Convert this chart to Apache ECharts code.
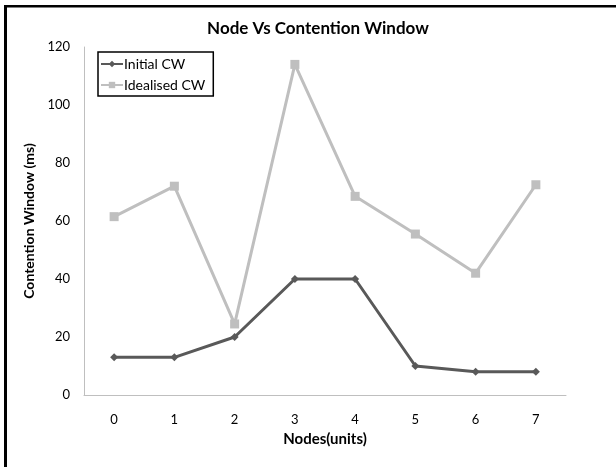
<!DOCTYPE html>
<html><head><meta charset="utf-8">
<script src="https://cdn.jsdelivr.net/npm/echarts@6/dist/echarts.min.js"></script>
<style>html,body{margin:0;padding:0;background:#fff}#c{width:616px;height:467px}</style>
</head><body><div id="c"></div>
<script>
const categories = ['0','1','2','3','4','5','6','7'];
const initialCW = [13, 13, 20, 40, 40, 10, 8, 8];
const idealisedCW = [61.5, 72, 24.5, 114, 68.5, 55.5, 42, 72.5];
const yTicks = [0, 20, 40, 60, 80, 100, 120];

const FONT = 'Lato, "Open Sans", sans-serif';
const chart = echarts.init(document.getElementById('c'), null, {renderer: 'canvas'});
chart.setOption({
  animation: false,
  backgroundColor: '#fff',
  textStyle: {fontFamily: FONT},
  title: {
    text: 'Node Vs Contention Window',
    left: 313, top: 15, textAlign: 'center',
    textStyle: {fontFamily: FONT, fontSize: 17, fontWeight: 'bold', color: '#000'}
  },
  legend: {
    orient: 'vertical', left: 98, top: 52,
    borderColor: '#000', borderWidth: 1.5, padding: [5, 8, 4, 2],
    itemWidth: 22, itemHeight: 8, itemGap: 7,
    textStyle: {fontFamily: FONT, fontSize: 14, color: '#000', padding: [0,0,0,-4]},
    data: ['Initial CW', 'Idealised CW']
  },
  grid: {left: 84, right: 50, top: 47, bottom: 72, containLabel: false},
  xAxis: {
    type: 'category', data: categories, boundaryGap: true,
    name: 'Nodes(units)', nameLocation: 'middle', nameGap: 37,
    nameTextStyle: {fontFamily: FONT, fontSize: 15, fontWeight: 'bold', color: '#000'},
    axisLine: {lineStyle: {color: '#bfbfbf', width: 1}},
    axisTick: {show: false},
    axisLabel: {fontFamily: FONT, fontSize: 13, color: '#000', margin: 18}
  },
  yAxis: {
    type: 'value', min: 0, max: 120, interval: 20,
    name: 'Contention Window (ms)', nameLocation: 'middle', nameGap: 47, nameRotate: 90,
    nameTextStyle: {fontFamily: FONT, fontSize: 14, fontWeight: 'bold', color: '#000'},
    axisLine: {show: true, lineStyle: {color: '#bfbfbf', width: 1}},
    axisTick: {show: false},
    splitLine: {show: false},
    axisLabel: {fontFamily: FONT, fontSize: 13, color: '#000', margin: 14,
      formatter: v => yTicks.includes(v) ? String(v) : ''}
  },
  series: [
    {
      name: 'Initial CW', type: 'line', data: initialCW,
      symbol: 'diamond', symbolSize: 8,
      lineStyle: {color: '#595959', width: 3},
      itemStyle: {color: '#595959'}
    },
    {
      name: 'Idealised CW', type: 'line', data: idealisedCW,
      symbol: 'rect', symbolSize: 9,
      lineStyle: {color: '#bfbfbf', width: 3},
      itemStyle: {color: '#bfbfbf'}
    }
  ],
  graphic: [
    {type: 'rect', shape: {x: 4, y: 5, width: 620, height: 2.5}, style: {fill: '#000'}},
    {type: 'rect', shape: {x: 4, y: 5, width: 3, height: 470}, style: {fill: '#000'}}
  ]
});
</script></body></html>
